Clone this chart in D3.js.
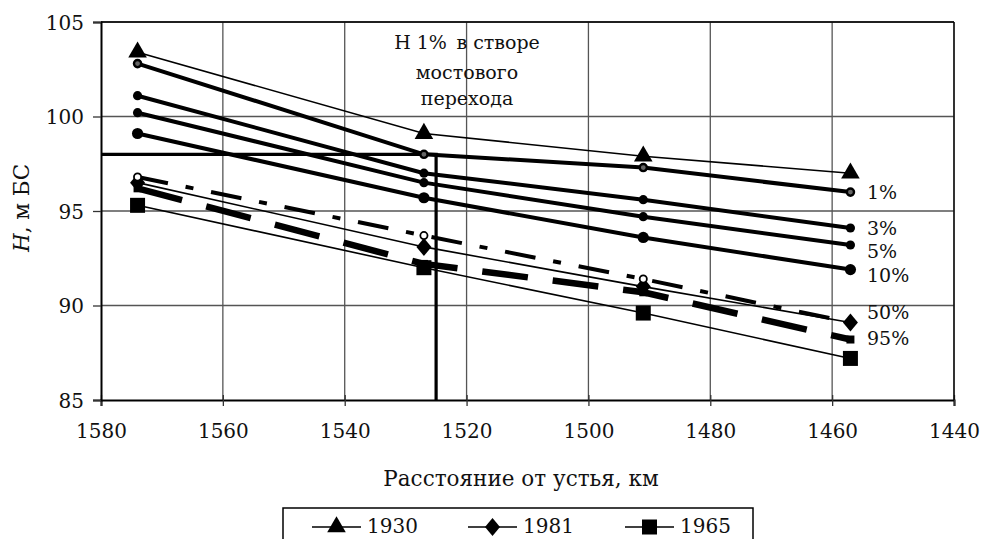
<!DOCTYPE html>
<html>
<head>
<meta charset="utf-8">
<script src="https://cdn.jsdelivr.net/npm/d3@7"></script>
<style>
  body { margin: 0; background: #fff; }
  text { fill: #111; }
</style>
</head>
<body>
<script>
// distances from the mouth, km
var km = [1574, 1527, 1491, 1457];

// observed water levels
var h1930 = [103.4, 99.1, 97.9, 97.0];
var h1981 = [96.5, 93.1, 91.0, 89.1];
var h1965 = [95.3, 92.0, 89.6, 87.2];

// levels of given probability
var p1 = [102.8, 98.0, 97.3, 96.0];
var p3 = [101.1, 97.0, 95.6, 94.1];
var p5 = [100.2, 96.5, 94.7, 93.2];
var p10 = [99.1, 95.7, 93.6, 91.9];
var p50 = [96.8, 93.7, 91.4, 89.1];
var p95 = [96.2, 92.2, 90.7, 88.2];

var xTicks = [1580, 1560, 1540, 1520, 1500, 1480, 1460, 1440];
var yTicks = [85, 90, 95, 100, 105];

// bridge crossing: H1% = 98 at 1525 km
var bridgeKm = 1525, bridgeH = 98.0;

var NUM = "'DejaVu Serif', serif";
var TXT = "'DejaVu Serif', serif";

var width = 982, height = 539;

var x = d3.scaleLinear().domain([1580, 1440]).range([101, 954]);
var y = d3.scaleLinear().domain([85, 105]).range([400, 22]);

var svg = d3.select("body")
  .append("svg")
  .attr("width", width)
  .attr("height", height);

// grid
svg.append("g")
  .selectAll("line")
  .data(xTicks.slice(1))
  .enter()
  .append("line")
  .attr("x1", d => x(d)).attr("x2", d => x(d))
  .attr("y1", y(85)).attr("y2", y(105))
  .attr("stroke", "#555").attr("stroke-width", 1.3);

svg.append("g")
  .selectAll("line")
  .data(yTicks.slice(1))
  .enter()
  .append("line")
  .attr("x1", x(1580)).attr("x2", x(1440))
  .attr("y1", d => y(d)).attr("y2", d => y(d))
  .attr("stroke", "#555").attr("stroke-width", 1.3);

// axes
var xAxis = d3.axisBottom(x).tickValues(xTicks).tickFormat(d3.format("d")).tickSize(6).tickPadding(18);
var gx = svg.append("g").attr("transform", "translate(0," + y(85) + ")").call(xAxis)
  .attr("font-family", null).attr("font-size", null);
gx.select(".domain").attr("stroke", "#000").attr("stroke-width", 2);
gx.selectAll(".tick line").attr("stroke", "#333").attr("stroke-width", 1.3).attr("y1", -5);
gx.selectAll(".tick text").attr("font-family", NUM).attr("font-size", "20px").attr("fill", "#111");

var yAxis = d3.axisLeft(y).tickValues(yTicks).tickSize(8).tickPadding(9);
var gy = svg.append("g").attr("transform", "translate(" + x(1580) + ",0)").call(yAxis)
  .attr("font-family", null).attr("font-size", null);
gy.select(".domain").attr("stroke", "#000").attr("stroke-width", 2);
gy.selectAll(".tick line").attr("stroke", "#333").attr("stroke-width", 1.3);
gy.selectAll(".tick text").attr("font-family", NUM).attr("font-size", "20px").attr("fill", "#111").attr("dy", "0.35em");

svg.append("line")
  .attr("x1", x(1580)).attr("x2", x(1440))
  .attr("y1", y(105)).attr("y2", y(105))
  .attr("stroke", "#000").attr("stroke-width", 1.3);
svg.append("line")
  .attr("x1", x(1440)).attr("x2", x(1440))
  .attr("y1", y(105)).attr("y2", y(85))
  .attr("stroke", "#000").attr("stroke-width", 1.3);

// bridge lines
svg.append("path")
  .attr("d", d3.line()([[x(1580), y(bridgeH)], [x(bridgeKm), y(bridgeH)], [x(bridgeKm), y(85)]]))
  .attr("fill", "none").attr("stroke", "#000").attr("stroke-width", 3.2);

var line = d3.line().x((d, i) => x(km[i])).y(d => y(d));

var series = [
  { v: h1930, w: 1.6, dash: null, m: "tri" },
  { v: p1, w: 4, dash: null, m: "ring" },
  { v: p3, w: 4, dash: null, m: "dot" },
  { v: p5, w: 4, dash: null, m: "dot" },
  { v: p10, w: 4, dash: null, m: "bigdot" },
  { v: h1965, w: 1.6, dash: null, m: "sq" },
  { v: p95, w: 6.5, dash: "46,25", m: "smallsq" },
  { v: h1981, w: 1.6, dash: null, m: "dia" },
  { v: p50, w: 4, dash: "31,18,8,18", m: "open" }
];

series.forEach(function(s) {
  svg.append("path")
    .attr("d", line(s.v))
    .attr("fill", "none")
    .attr("stroke", "#000")
    .attr("stroke-width", s.w)
    .attr("stroke-dasharray", s.dash);
});

function marker(g, type, cx, cy) {
  if (type === "tri") {
    g.append("path").attr("d", d3.symbol(d3.symbolTriangle, 150)())
      .attr("transform", "translate(" + cx + "," + cy + ")").attr("fill", "#000");
  } else if (type === "dia") {
    g.append("path").attr("d", "M0,-9L7.5,0L0,9L-7.5,0Z")
      .attr("transform", "translate(" + cx + "," + cy + ")").attr("fill", "#000");
  } else if (type === "sq") {
    g.append("rect").attr("x", cx - 7.5).attr("y", cy - 7.5).attr("width", 15).attr("height", 15).attr("fill", "#000");
  } else if (type === "smallsq") {
    g.append("rect").attr("x", cx - 4).attr("y", cy - 4).attr("width", 8).attr("height", 8).attr("fill", "#000");
  } else if (type === "ring") {
    g.append("circle").attr("cx", cx).attr("cy", cy).attr("r", 3.6).attr("fill", "#666").attr("stroke", "#000").attr("stroke-width", 2.4);
  } else if (type === "dot") {
    g.append("circle").attr("cx", cx).attr("cy", cy).attr("r", 4.6).attr("fill", "#000");
  } else if (type === "bigdot") {
    g.append("circle").attr("cx", cx).attr("cy", cy).attr("r", 5.6).attr("fill", "#000");
  } else if (type === "open") {
    g.append("circle").attr("cx", cx).attr("cy", cy).attr("r", 3.6).attr("fill", "#fff").attr("stroke", "#000").attr("stroke-width", 1.8);
  }
}

var mg = svg.append("g");
series.forEach(function(s) {
  s.v.forEach(function(d, i) {
    if (s.m === "open" && i === 3) return;
    marker(mg, s.m, x(km[i]), y(d));
  });
});

// probability labels on the right
var pLabels = ["1%", "3%", "5%", "10%", "50%", "95%"];
var pLabelY = [199, 235, 258, 282, 319, 345];
svg.append("g")
  .selectAll("text")
  .data(pLabels)
  .enter()
  .append("text")
  .attr("x", 867)
  .attr("y", (d, i) => pLabelY[i])
  .attr("font-family", NUM)
  .attr("font-size", "19px")
  .text(d => d);

// annotation
var note = svg.append("text").attr("text-anchor", "middle")
  .attr("font-family", TXT).attr("font-size", "19px");
note.append("tspan").attr("x", 467).attr("y", 49).text("Н 1%\u2002в створе");
note.append("tspan").attr("x", 467).attr("y", 79).text("мостового");
note.append("tspan").attr("x", 467).attr("y", 105).text("перехода");

// axis titles
svg.append("text")
  .attr("x", 521).attr("y", 486)
  .attr("text-anchor", "middle")
  .attr("font-family", TXT)
  .attr("font-size", "21.5px")
  .text("Расстояние от  устья, км");

var yl = svg.append("text")
  .attr("transform", "translate(29,208) rotate(-90)")
  .attr("text-anchor", "middle")
  .attr("font-family", TXT)
  .attr("font-size", "21.5px");
yl.append("tspan").style("font-style", "italic").text("H");
yl.append("tspan").text(", м БС");

// legend
var lg = svg.append("g");
lg.append("rect")
  .attr("x", 283).attr("y", 508).attr("width", 470).attr("height", 40)
  .attr("fill", "#fff").attr("stroke", "#000").attr("stroke-width", 1.5);

var legendItems = [
  { name: "1930", m: "tri", x0: 312 },
  { name: "1981", m: "dia", x0: 468 },
  { name: "1965", m: "sq", x0: 625 }
];
legendItems.forEach(function(it) {
  lg.append("line")
    .attr("x1", it.x0).attr("x2", it.x0 + 49)
    .attr("y1", 527).attr("y2", 527)
    .attr("stroke", "#000").attr("stroke-width", 1.6);
  marker(lg, it.m, it.x0 + 24.5, 527);
  lg.append("text")
    .attr("x", it.x0 + 55).attr("y", 533)
    .attr("font-family", NUM)
    .attr("font-size", "20px")
    .text(it.name);
});
</script>
</body>
</html>
